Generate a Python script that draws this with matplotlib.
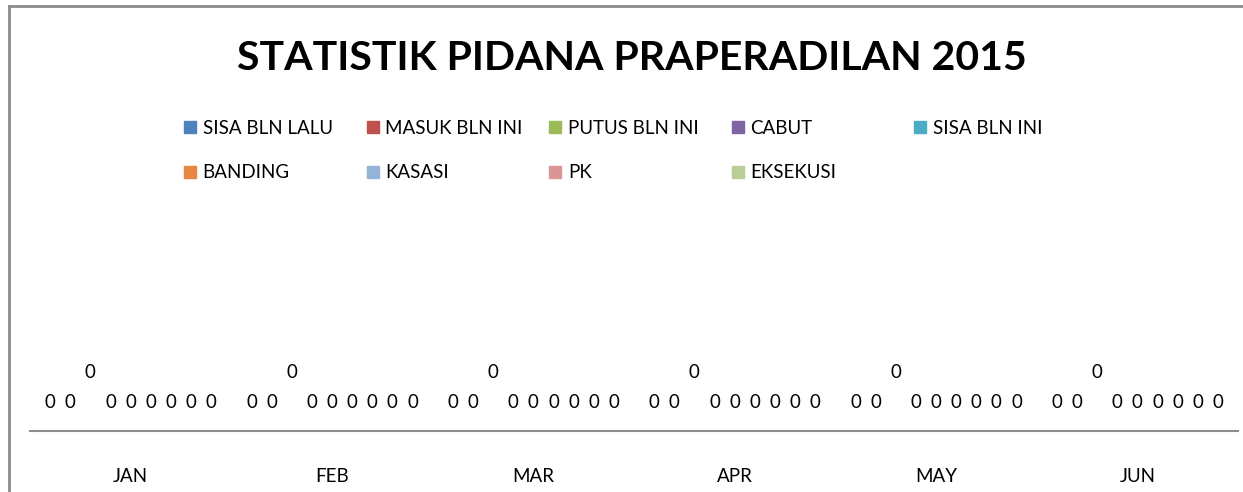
import matplotlib
matplotlib.use("Agg")
import matplotlib.pyplot as plt
from matplotlib.patches import Patch
from matplotlib.lines import Line2D
import numpy as np

months = ["JAN", "FEB", "MAR", "APR", "MAY", "JUN"]
series_names = ["SISA BLN LALU", "MASUK BLN INI", "PUTUS BLN INI", "CABUT", "SISA BLN INI",
                "BANDING", "KASASI", "PK", "EKSEKUSI"]
sisa_bln_lalu = [0, 0, 0, 0, 0, 0]
masuk_bln_ini = [0, 0, 0, 0, 0, 0]
putus_bln_ini = [0, 0, 0, 0, 0, 0]
cabut = [0, 0, 0, 0, 0, 0]
sisa_bln_ini = [0, 0, 0, 0, 0, 0]
banding = [0, 0, 0, 0, 0, 0]
kasasi = [0, 0, 0, 0, 0, 0]
pk = [0, 0, 0, 0, 0, 0]
eksekusi = [0, 0, 0, 0, 0, 0]
values = [sisa_bln_lalu, masuk_bln_ini, putus_bln_ini, cabut, sisa_bln_ini,
          banding, kasasi, pk, eksekusi]
colors = ["#4F81BD", "#C0504D", "#9BBB59", "#8064A2", "#4BACC6",
          "#E8873F", "#95B3D7", "#D99694", "#B9CD96"]

plt.rcParams['font.family'] = ['Lato', 'DejaVu Sans']

W, H = 1243, 492
fig = plt.figure(figsize=(W/100, H/100), dpi=100)

# chart frame (left and top edges)
fig.add_artist(Line2D([9/W, 9/W], [0, 1-6/H], color="#8c8c8c", lw=2))
fig.add_artist(Line2D([9/W, 1], [1-6/H, 1-6/H], color="#8c8c8c", lw=2))

ax = fig.add_axes([30/W, (H-431)/H, 1208/W, 200/H])
x = np.arange(len(months))
bw = 0.1
for i, (name, vals, c) in enumerate(zip(series_names, values, colors)):
    pos = x + (i-4)*bw
    ax.bar(pos, vals, width=bw, color=c, label=name)
    off = 58 if i == 2 else 28
    for px, v in zip(pos, vals):
        ax.annotate(str(v), (px, v), xytext=(0, off*0.72), textcoords="offset points",
                    ha="center", va="center", fontsize=13.5, color="#000000")

ax.set_xlim(-0.5, len(months)-0.5)
ax.set_ylim(0, 1)
for s in ["top", "right", "left"]:
    ax.spines[s].set_visible(False)
ax.spines["bottom"].set_color("#8c8c8c")
ax.spines["bottom"].set_linewidth(1.5)
ax.set_yticks([])
ax.set_xticks(x)
ax.set_xticklabels(months, fontsize=13.5)
ax.tick_params(axis="x", length=0, pad=27)

fig.text(632/W, 1-58/H, "STATISTIK PIDANA PRAPERADILAN 2015", ha="center", va="center",
         fontsize=29.5, fontweight="bold")

handles = [Patch(color=c) for c in colors]
for i, (h, name) in enumerate(zip(handles, series_names)):
    row, col = divmod(i, 5)
    xl = (184 + 182.5*col)/W
    yl = 1 - (128 + 45*row)/H
    leg = fig.legend([h], [name], loc="center left", bbox_to_anchor=(xl, yl),
                     frameon=False, fontsize=13.5, handlelength=0.65, handleheight=0.65,
                     handletextpad=0.35, borderpad=0, borderaxespad=0)

fig.savefig("out.png", dpi=100)
